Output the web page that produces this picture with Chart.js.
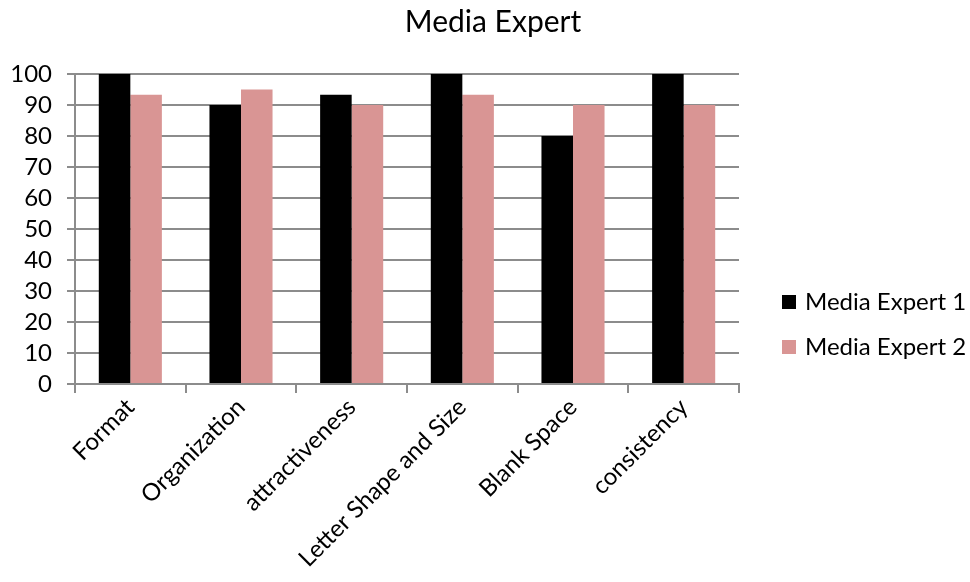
<!DOCTYPE html>
<html>
<head>
  <meta charset="utf-8">
  <title>Media Expert</title>
  <script src="https://cdn.jsdelivr.net/npm/chart.js"></script>
  <style>
    html, body { margin: 0; padding: 0; background: #fff; }
  </style>
</head>
<body>
  <canvas id="chart" width="970" height="582"></canvas>
  <script>
    // data
    const categories = ['Format', 'Organization', 'attractiveness', 'Letter Shape and Size', 'Blank Space', 'consistency'];
    const seriesNames = ['Media Expert 1', 'Media Expert 2'];
    const expert1 = [100, 90, 93.3, 100, 80, 100];
    const expert2 = [93.3, 95, 90, 93.3, 90, 90];
    const yTicks = [0, 10, 20, 30, 40, 50, 60, 70, 80, 90, 100];
    const chartTitle = 'Media Expert';

    const colors = ['#000000', '#d99594'];
    const gridColor = '#8c8c8c';
    const fontFamily = 'Lato, "Open Sans", sans-serif';

    // title and legend drawn by hand so they sit where the original has them
    const titleAndLegend = {
      id: 'titleAndLegend',
      afterDraw(chart) {
        const ctx = chart.ctx;
        ctx.save();
        ctx.fillStyle = '#000';
        ctx.textBaseline = 'middle';
        ctx.textAlign = 'center';
        ctx.font = '30px ' + fontFamily;
        ctx.fillText(chartTitle, 493, 22);

        ctx.font = '24px ' + fontFamily;
        ctx.textAlign = 'left';
        chart.data.datasets.forEach((ds, i) => {
          const y = 302 + i * 45;
          ctx.fillStyle = ds.backgroundColor;
          ctx.fillRect(782, y - 7, 14, 14);
          ctx.fillStyle = '#000';
          ctx.fillText(ds.label, 805, y);
        });
        ctx.restore();
      }
    };

    new Chart(document.getElementById('chart'), {
      type: 'bar',
      data: {
        labels: categories,
        datasets: [
          { label: seriesNames[0], data: expert1, backgroundColor: colors[0] },
          { label: seriesNames[1], data: expert2, backgroundColor: colors[1] }
        ]
      },
      options: {
        responsive: false,
        animation: false,
        layout: { padding: { left: 0, right: 231, top: 74, bottom: 0 } },
        datasets: {
          bar: { categoryPercentage: 0.57, barPercentage: 1.0 }
        },
        plugins: {
          legend: { display: false },
          tooltip: { enabled: false },
          title: { display: false }
        },
        scales: {
          x: {
            offset: true,
            grid: {
              display: true,
              offset: true,
              drawOnChartArea: false,
              color: gridColor,
              lineWidth: 2,
              tickLength: 9
            },
            border: { color: gridColor, width: 2 },
            ticks: {
              color: '#000',
              font: { family: fontFamily, size: 24 },
              minRotation: 45,
              maxRotation: 45,
              autoSkip: false,
              padding: 0
            },
            afterFit(scale) { scale.height = 198; }
          },
          y: {
            min: yTicks[0],
            max: yTicks[yTicks.length - 1],
            afterBuildTicks(scale) { scale.ticks = yTicks.map(v => ({ value: v })); },
            grid: {
              color: gridColor,
              lineWidth: 2,
              tickLength: 8
            },
            border: { color: gridColor, width: 2 },
            ticks: {
              color: '#000',
              font: { family: fontFamily, size: 24 },
              autoSkip: false,
              padding: 15
            },
            afterFit(scale) { scale.width = 75; }
          }
        }
      },
      plugins: [titleAndLegend]
    });
  </script>
</body>
</html>
